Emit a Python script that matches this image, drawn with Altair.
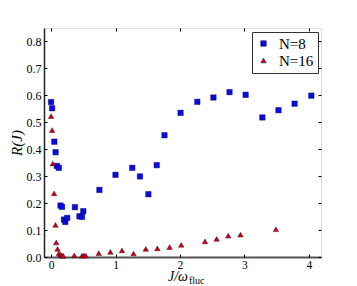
import altair as alt
import pandas as pd

n8_x = [0.0, 0.016, 0.05, 0.07, 0.09, 0.12, 0.146, 0.17, 0.2, 0.22, 0.25, 0.37, 0.44, 0.48, 0.5,
        0.75, 1.0, 1.26, 1.38, 1.51, 1.64, 1.76, 2.01, 2.27, 2.52, 2.77, 3.02, 3.28, 3.53, 3.78, 4.04]
n8_y = [0.575, 0.552, 0.428, 0.389, 0.338, 0.331, 0.191, 0.186, 0.139, 0.130, 0.145, 0.185, 0.151,
        0.149, 0.170, 0.249, 0.305, 0.331, 0.299, 0.233, 0.341, 0.452, 0.535, 0.576, 0.592, 0.612,
        0.602, 0.518, 0.545, 0.569, 0.599]

n16_x = [0.0, 0.016, 0.026, 0.047, 0.068, 0.08, 0.1, 0.12, 0.146, 0.17, 0.19, 0.36, 0.48, 0.51,
         0.54, 0.74, 0.92, 1.10, 1.28, 1.47, 1.65, 1.84, 2.02, 2.39, 2.57, 2.75, 2.94, 3.49]
n16_y = [0.523, 0.471, 0.347, 0.236, 0.119, 0.054, 0.030, 0.013, 0.009, 0.006, 0.004, 0.006,
         0.005, 0.006, 0.005, 0.014, 0.019, 0.025, 0.013, 0.030, 0.032, 0.037, 0.045, 0.058,
         0.067, 0.079, 0.083, 0.103]

series = ["N=8", "N=16"]
x_ticks = [0, 1, 2, 3, 4]
y_ticks = [0.0, 0.1, 0.2, 0.3, 0.4, 0.5, 0.6, 0.7, 0.8]

df = pd.concat([
    pd.DataFrame({"x": n8_x, "y": n8_y, "s": series[0]}),
    pd.DataFrame({"x": n16_x, "y": n16_y, "s": series[1]}),
])

W, H = 277, 229
FONT = "Liberation Serif"
xs = alt.Scale(domain=[-0.11, 4.19], nice=False, zero=False)
ys = alt.Scale(domain=[0, 0.85], nice=False)
color = alt.Color("s:N", scale=alt.Scale(domain=series, range=["#0a0ae6", "#d40000"]),
                  legend=alt.Legend(title=None, orient="none", legendX=208, legendY=4,
                                    strokeColor="#333333", fillColor="white", padding=4,
                                    labelFont=FONT, labelFontSize=15, symbolSize=30,
                                    rowPadding=1, cornerRadius=0, symbolStrokeWidth=0.5,
                                    labelOffset=8))
shape = alt.Shape("s:N", scale=alt.Scale(domain=series, range=["square", "triangle-up"]))

base = alt.Chart(df)

# layer 1: visible points, labelled axes
l1 = base.mark_point(filled=True, size=30, stroke="#000040", strokeWidth=0.4, opacity=1).encode(
    x=alt.X("x:Q", scale=xs, axis=alt.Axis(orient="bottom", values=x_ticks, format="d", tickSize=0,
                                            labelPadding=2, labelFont=FONT, labelFontSize=11.5,
                                            labelColor="black", domainColor="#555555",
                                            domainWidth=2, title=None, grid=False)),
    y=alt.Y("y:Q", scale=ys, axis=alt.Axis(orient="left", values=y_ticks, format=".1f", tickSize=0,
                                            labelPadding=3, labelFont=FONT, labelFontSize=12,
                                            labelColor="black", domainColor="#222222",
                                            domainWidth=1.5, title="R(J)", titleFont=FONT,
                                            titleFontSize=15, titleFontStyle="italic",
                                            titleFontWeight="normal", titlePadding=2, grid=False)),
    color=color, shape=shape,
)

# layer 2: inward ticks top / right
l2 = base.mark_point(opacity=0).encode(
    x=alt.X("x:Q", scale=xs, axis=alt.Axis(orient="top", values=x_ticks, labels=False, domain=False,
                                            tickSize=3, offset=-3, tickColor="black", title=None, grid=False)),
    y=alt.Y("y:Q", scale=ys, axis=alt.Axis(orient="right", values=y_ticks, labels=False, domain=False,
                                            tickSize=3, offset=-3, tickColor="black", title=None, grid=False)),
)

# layer 3: inward ticks bottom / left
l3 = base.mark_point(opacity=0).encode(
    x=alt.X("x:Q", scale=xs, axis=alt.Axis(orient="bottom", values=x_ticks, labels=False, domain=False,
                                            tickSize=3, offset=-3, tickColor="black", title=None, grid=False)),
    y=alt.Y("y:Q", scale=ys, axis=alt.Axis(orient="left", values=y_ticks, labels=False, domain=False,
                                            tickSize=3, offset=-3, tickColor="black", title=None, grid=False)),
)

title_df = pd.DataFrame({"t": ["J/ω"]})
t1 = alt.Chart(title_df).mark_text(font=FONT, fontSize=14, fontStyle="italic", align="right",
                                    baseline="alphabetic").encode(
    text="t:N", x=alt.value(144), y=alt.value(253))
sub_df = pd.DataFrame({"t": ["fluc"]})
t2 = alt.Chart(sub_df).mark_text(font=FONT, fontSize=10, align="left",
                                  baseline="alphabetic").encode(
    text="t:N", x=alt.value(145), y=alt.value(256))

chart = alt.layer(l1, l2, l3, t1, t2).resolve_axis(x="independent", y="independent").properties(
    width=W, height=H,
    autosize=alt.AutoSizeParams(type="none"),
    padding={"left": 36, "top": 20, "right": 28, "bottom": 28},
).configure_view(stroke="black", strokeWidth=1.2).configure(background="white")

chart.save("out.html", embed_options={"renderer": "svg", "actions": False})
